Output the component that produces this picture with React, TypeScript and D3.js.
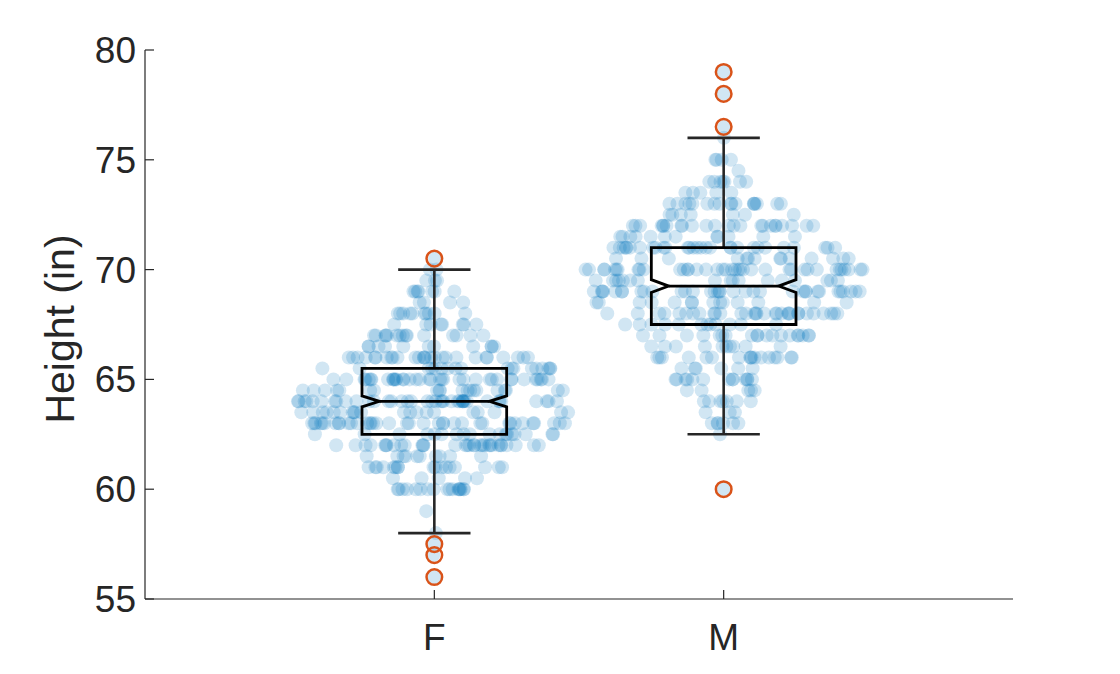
import React from 'react';
import * as d3 from 'd3';

const CATEGORIES = ['F', 'M'];
const F_LEVELS = [56, 57, 57.5, 58, 59, 60, 60.5, 61, 61.5, 62, 62.5, 63, 63.5, 64, 64.5, 65, 65.5, 66, 66.5, 67, 67.5, 68, 68.5, 69, 69.5, 70, 70.5];
const F_COUNTS = [1, 1, 1, 1, 1, 17, 5, 17, 10, 32, 18, 37, 20, 40, 20, 37, 18, 27, 11, 15, 8, 10, 4, 7, 3, 2, 1];
const M_LEVELS = [60, 62.5, 63, 63.5, 64, 64.5, 65, 65.5, 66, 66.5, 67, 67.5, 68, 68.5, 69, 69.5, 70, 70.5, 71, 71.5, 72, 72.5, 73, 73.5, 74, 74.5, 75, 76, 76.5, 78, 79];
const M_COUNTS = [1, 1, 6, 3, 7, 5, 13, 6, 17, 10, 19, 12, 31, 14, 34, 17, 38, 14, 29, 12, 24, 7, 17, 5, 7, 1, 4, 1, 1, 1, 1];
const Y_TICKS = [55, 60, 65, 70, 75, 80];
const Y_LABEL = 'Height (in)';

const W = 1120;
const H = 674;
const LEFT = 145;
const RIGHT = 1013;
const TOP = 50;
const BOTTOM = 599;
const FONT = "'Liberation Sans', Arial, Helvetica, sans-serif";
const AX = '#262626';
const BLUE = '#0072BD';
const ORANGE = '#D95319';

type Group = { cat: string; levels: number[]; counts: number[] };
const GROUPS: Group[] = [
  { cat: CATEGORIES[0], levels: F_LEVELS, counts: F_COUNTS },
  { cat: CATEGORIES[1], levels: M_LEVELS, counts: M_COUNTS },
];

// deterministic jitter (layout only, like swarmchart's density jitter)
const jit = (a: number, b: number) => {
  const s = Math.sin(a * 12.9898 + b * 78.233) * 43758.5453;
  return s - Math.floor(s);
};

export default function App() {
  const x = d3.scalePoint<string>().domain(CATEGORIES).range([LEFT, RIGHT]).padding(1);
  const y = d3.scaleLinear().domain([55, 80]).range([BOTTOM, TOP]);
  const pxPerUnit = (RIGHT - LEFT) / 3;
  const maxHalf = 0.495 * pxPerUnit;
  const boxHalf = 0.25 * pxPerUnit;
  const capHalf = boxHalf / 2;
  const notchInset = boxHalf * 0.24;
  const r = 7;

  const groups = GROUPS.map((g, gi) => {
    const values: number[] = [];
    g.levels.forEach((lv, i) => {
      for (let k = 0; k < g.counts[i]; k++) values.push(lv);
    });
    values.sort((a, b) => a - b);
    const n = values.length;
    const bw = 0.8;
    const dens = (v: number) => d3.sum(values, (d) => Math.exp(-0.5 * ((v - d) / bw) ** 2));
    const maxD = d3.max(g.levels, dens) as number;
    const cx = x(g.cat) as number;
    const points: { px: number; py: number }[] = [];
    g.levels.forEach((lv, li) => {
      const half = Math.max(0, maxHalf * dens(lv) / maxD - r * 0.3);
      for (let k = 0; k < g.counts[li]; k++) {
        const u = jit(k + 1 + gi * 100, li + 1);
        points.push({ px: cx + (2 * u - 1) * half, py: y(lv) });
      }
    });
    const q1 = d3.quantile(values, 0.25) as number;
    const med = d3.quantile(values, 0.5) as number;
    const q3 = d3.quantile(values, 0.75) as number;
    const iqr = q3 - q1;
    const lo = d3.min(values.filter((v) => v >= q1 - 1.5 * iqr)) as number;
    const hi = d3.max(values.filter((v) => v <= q3 + 1.5 * iqr)) as number;
    const outliers = Array.from(new Set(values.filter((v) => v < lo || v > hi)));
    const notch = 0.26;
    return { cx, points, q1, med, q3, lo, hi, outliers, notch, iqr, n };
  });

  return (
    <svg width={W} height={H} style={{ position: 'absolute', left: 0, top: 0, background: '#fff' }} fontFamily={FONT}>
      <rect width={W} height={H} fill="#fff" />
      {groups.map((g, gi) =>
        g.points.map((p, i) => (
          <circle key={`p${gi}-${i}`} cx={p.px} cy={p.py} r={r} fill={BLUE} fillOpacity={0.18} />
        ))
      )}
      {groups.map((g, gi) => {
        const x0 = g.cx - boxHalf;
        const x1 = g.cx + boxHalf;
        const yq3 = y(g.q3);
        const yq1 = y(g.q1);
        const ym = y(g.med);
        const notchHalf = ((1.58 * g.iqr) / Math.sqrt(g.n)) * 1.0;
        const nTop = y(g.med + notchHalf);
        const nBot = y(g.med - notchHalf);
        const path = `M${x0},${yq3}L${x1},${yq3}L${x1},${nTop}L${x1 - notchInset},${ym}L${x1},${nBot}L${x1},${yq1}L${x0},${yq1}L${x0},${nBot}L${x0 + notchInset},${ym}L${x0},${nTop}Z`;
        return (
          <g key={`b${gi}`}>
            <line x1={g.cx} x2={g.cx} y1={yq3} y2={y(g.hi)} stroke={AX} strokeWidth={2.6} />
            <line x1={g.cx} x2={g.cx} y1={yq1} y2={y(g.lo)} stroke={AX} strokeWidth={2.6} />
            <line x1={g.cx - capHalf} x2={g.cx + capHalf} y1={y(g.hi)} y2={y(g.hi)} stroke={AX} strokeWidth={2.6} />
            <line x1={g.cx - capHalf} x2={g.cx + capHalf} y1={y(g.lo)} y2={y(g.lo)} stroke={AX} strokeWidth={2.6} />
            <path d={path} fill="none" stroke="#000" strokeWidth={2.8} strokeLinejoin="miter" />
            <line x1={x0 + notchInset} x2={x1 - notchInset} y1={ym} y2={ym} stroke="#000" strokeWidth={2.8} />
            {g.outliers.map((o, oi) => (
              <circle key={`o${oi}`} cx={g.cx} cy={y(o)} r={7.8} fill="none" stroke={ORANGE} strokeWidth={2.5} />
            ))}
          </g>
        );
      })}
      {/* axes */}
      <line x1={LEFT} x2={LEFT} y1={TOP} y2={BOTTOM} stroke={AX} strokeWidth={1.2} />
      <line x1={LEFT} x2={RIGHT} y1={BOTTOM} y2={BOTTOM} stroke={AX} strokeWidth={1.2} />
      {Y_TICKS.map((t) => (
        <g key={`yt${t}`}>
          <line x1={LEFT} x2={LEFT + 9} y1={y(t)} y2={y(t)} stroke={AX} strokeWidth={1.2} />
          <text x={LEFT - 9} y={y(t)} dy="0.35em" textAnchor="end" fontSize={37} fill={AX}>
            {t}
          </text>
        </g>
      ))}
      {CATEGORIES.map((c) => (
        <g key={`xt${c}`}>
          <line x1={x(c) as number} x2={x(c) as number} y1={BOTTOM} y2={BOTTOM - 9} stroke={AX} strokeWidth={1.2} />
          <text x={x(c) as number} y={650} textAnchor="middle" fontSize={37} fill={AX}>
            {c}
          </text>
        </g>
      ))}
      <text
        transform={`translate(74, 329) rotate(-90)`}
        textAnchor="middle"
        fontSize={41}
        fill={AX}
      >
        {Y_LABEL}
      </text>
    </svg>
  );
}
